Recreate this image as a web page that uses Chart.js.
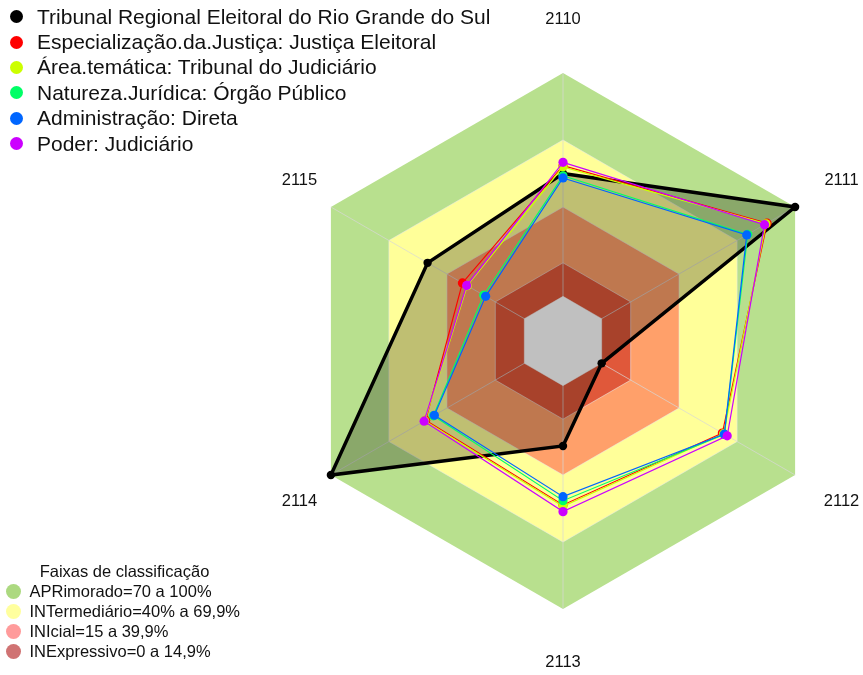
<!DOCTYPE html>
<html>
<head>
<meta charset="utf-8">
<script src="https://cdn.jsdelivr.net/npm/chart.js@4.4.1/dist/chart.umd.min.js"></script>
<style>
  body { margin: 0; background: #fff; font-family: 'Liberation Sans', Arial, sans-serif; color: #111; }
  #wrap { position: relative; width: 863px; height: 675px; }
  #radar { position: absolute; left: 0; top: 0; }
  #seriesLegend { position: absolute; left: 0; top: 4px; }
  #seriesLegend .item { display: flex; align-items: center; height: 25.4px; font-size: 21px; white-space: nowrap; }
  #seriesLegend .dot { width: 13px; height: 13px; border-radius: 50%; margin-left: 9.5px; margin-right: 14.5px; }
  #bandLegend { position: absolute; left: 0; top: 561px; width: 250px; }
  #bandLegend .title { text-align: center; font-size: 16.5px; height: 21px; line-height: 21px; width: 249px; }
  #bandLegend .item { display: flex; align-items: center; height: 19.8px; font-size: 16.5px; white-space: nowrap; }
  #bandLegend .dot { width: 15px; height: 15px; border-radius: 50%; margin-left: 6px; margin-right: 8.5px; }
</style>
</head>
<body>
<div id="wrap">
  <canvas id="radar" width="863" height="675"></canvas>
  <div id="seriesLegend"></div>
  <div id="bandLegend"></div>
</div>
<script>
// Radar: TRE-RS x grupos de comparação

const axisLabels = ['2110', '2111', '2112', '2113', '2114', '2115'];

const seriesNames = [
    'Tribunal Regional Eleitoral do Rio Grande do Sul',
    'Especialização.da.Justiça: Justiça Eleitoral',
    'Área.temática: Tribunal do Judiciário',
    'Natureza.Jurídica: Órgão Público',
    'Administração: Direta',
    'Poder: Judiciário'
];
const seriesColors = ['#000000', '#FF0000', '#CCFF00', '#00FF66', '#0066FF', '#CC00FF'];

// valores em %, na ordem dos eixos
const treRS         = [55, 100, 0, 27, 100, 50];
const justicaEleit  = [58.5, 85.5, 62.4, 53.4, 51, 32];
const areaTematica  = [58, 85, 63, 54, 51.5, 29.5];
const naturezaJur   = [54, 75.5, 63.5, 51.5, 47, 21];
const administracao = [53, 75, 63.4, 49.7, 46.5, 20];
const poderJud      = [60, 84.2, 64.9, 56.4, 51.8, 29.8];

// faixas de classificação (limite superior de cada faixa)
const bandNames  = ['APRimorado=70 a 100%', 'INTermediário=40% a 69,9%', 'INIcial=15 a 39,9%', 'INExpressivo=0 a 14,9%'];
const bandLimits = [100, 70, 40, 15];
const bandColors = ['rgb(184,224,142)', 'rgb(255,255,153)', 'rgb(255,160,106)', 'rgb(224,88,58)'];
const bandLegendColors = ['rgb(172,217,128)', 'rgb(255,255,158)', 'rgb(255,155,155)', 'rgb(208,115,115)'];
const centerValue = 0;
const scaleMin = -20;
const scaleMax = 100;
const gridValues = [-20, 0, 15, 40, 70, 100];

// horizontal nudge of the axis names (left-hand ones sit a bit inward)
const labelShiftX = [0, 0, 0, 0, 15, 15];

// Background bands drawn before the scale so the spokes stay visible on top
const bandPlugin = {
    id: 'bands',
    beforeDraw(chart) {
        const scale = chart.scales.r;
        const ctx = chart.ctx;
        ctx.save();
        bandLimits.forEach((limit, k) => {
            ctx.beginPath();
            axisLabels.forEach((_, i) => {
                const p = scale.getPointPositionForValue(i, limit);
                if (i === 0) ctx.moveTo(p.x, p.y); else ctx.lineTo(p.x, p.y);
            });
            ctx.closePath();
            ctx.fillStyle = bandColors[k];
            ctx.fill();
        });
        ctx.restore();
    }
};

// Axis names placed at 1.2x the radius, centred
const axisNamePlugin = {
    id: 'axisNames',
    afterDraw(chart) {
        const scale = chart.scales.r;
        const ctx = chart.ctx;
        ctx.save();
        ctx.font = "16.5px 'Liberation Sans', Arial, sans-serif";
        ctx.fillStyle = '#111';
        ctx.textAlign = 'center';
        ctx.textBaseline = 'middle';
        axisLabels.forEach((label, i) => {
            const p = scale.getPointPosition(i, scale.drawingArea * 1.2);
            ctx.fillText(label, p.x + labelShiftX[i], p.y);
        });
        ctx.restore();
    }
};

const seriesData = [treRS, justicaEleit, areaTematica, naturezaJur, administracao, poderJud];

const datasets = seriesData.map((data, k) => ({
    label: seriesNames[k],
    data: data,
    borderColor: seriesColors[k],
    backgroundColor: k === 0 ? 'rgba(0,0,0,0.25)' : 'rgba(0,0,0,0)',
    fill: k === 0 ? 'start' : false,
    borderWidth: k === 0 ? 3.5 : 1.2,
    pointRadius: k === 0 ? 4.2 : 4.6,
    pointBackgroundColor: seriesColors[k],
    pointBorderWidth: 0,
    tension: 0,
    order: 10 - k
}));

// grey centre (below zero) covers the black fill
datasets.push({
    label: 'centro',
    data: axisLabels.map(() => centerValue),
    borderColor: 'rgba(0,0,0,0)',
    backgroundColor: 'rgb(192,192,192)',
    fill: 'start',
    borderWidth: 0,
    pointRadius: 0,
    order: 0
});

new Chart(document.getElementById('radar'), {
    type: 'radar',
    data: { labels: axisLabels, datasets: datasets },
    options: {
        responsive: false,
        animation: false,
        events: [],
        layout: { padding: { left: 295, right: 32, top: 73, bottom: 66 } },
        scales: {
            r: {
                min: scaleMin,
                max: scaleMax,
                afterBuildTicks: scale => {
                    scale.ticks = gridValues.map(v => ({ value: v }));
                },
                ticks: { display: false },
                pointLabels: { display: false },
                grid: {
                    color: ctx => (ctx.tick && ctx.tick.value === scaleMax) ? 'rgba(0,0,0,0)' : 'rgba(235,235,235,0.55)',
                    lineWidth: 1
                },
                angleLines: { color: 'rgba(215,215,215,0.7)', lineWidth: 1 }
            }
        },
        plugins: {
            legend: { display: false },
            tooltip: { enabled: false },
            filler: { drawTime: 'beforeDatasetsDraw', propagate: false }
        }
    },
    plugins: [bandPlugin, axisNamePlugin]
});

// Legends (HTML)
const seriesLegend = document.getElementById('seriesLegend');
seriesNames.forEach((name, k) => {
    const item = document.createElement('div');
    item.className = 'item';
    const dot = document.createElement('span');
    dot.className = 'dot';
    dot.style.backgroundColor = seriesColors[k];
    item.appendChild(dot);
    item.appendChild(document.createTextNode(name));
    seriesLegend.appendChild(item);
});

const bandLegend = document.getElementById('bandLegend');
const title = document.createElement('div');
title.className = 'title';
title.textContent = 'Faixas de classificação';
bandLegend.appendChild(title);
bandNames.forEach((name, k) => {
    const item = document.createElement('div');
    item.className = 'item';
    const dot = document.createElement('span');
    dot.className = 'dot';
    dot.style.backgroundColor = bandLegendColors[k];
    item.appendChild(dot);
    item.appendChild(document.createTextNode(name));
    bandLegend.appendChild(item);
});
</script>
</body>
</html>
